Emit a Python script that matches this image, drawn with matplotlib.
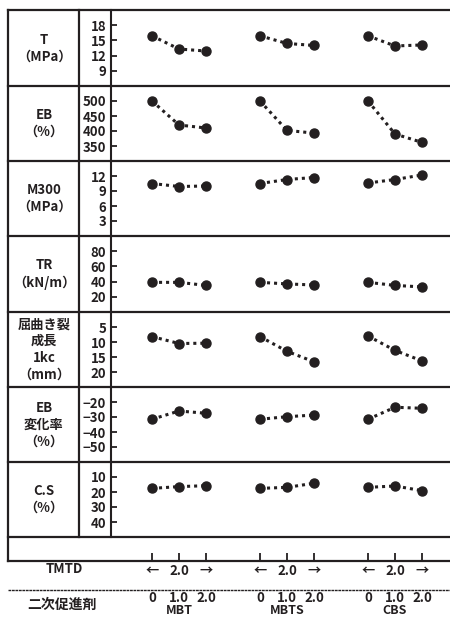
import numpy as np
import matplotlib
matplotlib.use("Agg")
import matplotlib.pyplot as plt
from matplotlib.lines import Line2D

plt.rcParams['font.family'] = ['Noto Sans CJK JP', 'DejaVu Sans']
plt.rcParams['font.weight'] = 'bold'

# accelerator groups and levels (phr)
groups = ['MBT', 'MBTS', 'CBS']
levels = [0, 1.0, 2.0]
level_labels = ['0', '1.0', '2.0']
tmtd_labels = ['←', '2.0', '→']

T = {'MBT': [15.9, 13.3, 12.9], 'MBTS': [15.9, 14.4, 14.0], 'CBS': [15.9, 13.9, 14.1]}
EB = {'MBT': [500, 420, 410], 'MBTS': [500, 402, 393], 'CBS': [500, 390, 362]}
M300 = {'MBT': [10.5, 9.9, 10.0], 'MBTS': [10.5, 11.3, 11.7], 'CBS': [10.6, 11.3, 12.2]}
TR = {'MBT': [39, 39, 35], 'MBTS': [39, 37, 35.5], 'CBS': [39, 35, 33]}
crack = {'MBT': [8.2, 10.5, 10.4], 'MBTS': [8.2, 13.1, 16.6], 'CBS': [8.0, 12.8, 16.3]}
EB_change = {'MBT': [-31.5, -26, -27.5], 'MBTS': [-31.5, -29.8, -28.7], 'CBS': [-31.5, -23.5, -24.2]}
CS = {'MBT': [17.6, 16.4, 15.8], 'MBTS': [17.6, 16.9, 14.2], 'CBS': [16.9, 16.0, 19.1]}

rows = [
    ('T\n（MPa）', T, (6, 21), [18, 15, 12, 9]),
    ('EB\n（%）', EB, (300, 550), [500, 450, 400, 350]),
    ('M300\n（MPa）', M300, (0, 15), [12, 9, 6, 3]),
    ('TR\n（kN/m）', TR, (0, 100), [80, 60, 40, 20]),
    ('屈曲き裂\n成長\n1kc\n（mm）', crack, (25, 0), [5, 10, 15, 20]),
    ('EB\n変化率\n（%）', EB_change, (-60, -10), [-20, -30, -40, -50]),
    ('C.S\n（%）', CS, (50, 0), [10, 20, 30, 40]),
]

W, H = 450, 618
fig = plt.figure(figsize=(W / 100, H / 100), dpi=100)


def fx(x):
    return x / W


def fy(y):
    return 1 - y / H


def hline(y, x0=8, x1=450, **kw):
    fig.add_artist(Line2D([fx(x0), fx(x1)], [fy(y), fy(y)], transform=fig.transFigure,
                          color='#231f20', **kw))


def vline(x, y0, y1, **kw):
    fig.add_artist(Line2D([fx(x), fx(x)], [fy(y0), fy(y1)], transform=fig.transFigure,
                          color='#231f20', **kw))


bounds = [10, 86, 161, 236, 312, 387, 462, 537, 561]
ax_left, ax_right = 111, 450
xlim = ((ax_left - 152) / 27, (ax_right - 152) / 27)


def xpos(g, lv):
    return 4 * g + lv


for i, (label, data, ylim, ticks) in enumerate(rows):
    top, bot = bounds[i], bounds[i + 1]
    ax = fig.add_axes([fx(ax_left), fy(bot), fx(ax_right - ax_left), (bot - top) / H])
    ax.set_xlim(*xlim)
    ax.set_ylim(*ylim)
    for g, name in enumerate(groups):
        xs = [xpos(g, lv) for lv in levels]
        ax.plot(xs, data[name], color='#231f20', linestyle=(0, (1, 1.3)), linewidth=2.2,
                marker='o', markersize=6.5, dash_capstyle='butt')
    for s in ['top', 'right', 'bottom']:
        ax.spines[s].set_visible(False)
    ax.spines['left'].set_linewidth(1.5)
    ax.spines['left'].set_color('#231f20')
    ax.set_xticks([])
    ax.set_yticks(ticks)
    ax.set_yticklabels([str(t).replace('-', '−') for t in ticks])
    ax.tick_params(axis='y', direction='in', length=4.5, width=1.3, pad=3.5,
                   labelsize=9.5, colors='#231f20')
    ax.patch.set_alpha(0)
    fig.text(fx(44), fy((top + bot) / 2), label, ha='center', va='center',
             fontsize=9.5, linespacing=1.25, color='#231f20')

# bottom strip with TMTD level ticks
top, bot = bounds[-2], bounds[-1]
axb = fig.add_axes([fx(ax_left), fy(bot), fx(ax_right - ax_left), (bot - top) / H])
axb.set_xlim(*xlim)
axb.set_yticks([])
for s in axb.spines.values():
    s.set_visible(False)
xt = [xpos(g, lv) for g in range(len(groups)) for lv in levels]
axb.set_xticks(xt)
axb.set_xticklabels(tmtd_labels * len(groups))
axb.tick_params(axis='x', direction='in', length=5.5, width=1.3, pad=2,
                labelsize=9.5, colors='#231f20')
axb.patch.set_alpha(0)

# table rules
for y in bounds:
    hline(y, linewidth=1.6)
vline(8, 10, 561, linewidth=1.6)
vline(79, 10, 537, linewidth=1.6)

fig.text(fx(64), fy(569), 'TMTD', ha='center', va='center', fontsize=9.5, color='#231f20')
hline(590, linewidth=1.0, linestyle=(0, (2, 0.5)))
fig.text(fx(62), fy(605), '二次促進剤', ha='center', va='center', fontsize=10, color='#231f20')

trans = matplotlib.transforms.blended_transform_factory(axb.transData, fig.transFigure)
for g, name in enumerate(groups):
    for lv, lab in zip(levels, level_labels):
        axb.text(xpos(g, lv), fy(598), lab, transform=trans, ha='center', va='center',
                 fontsize=9.5, color='#231f20', clip_on=False)
    axb.text(xpos(g, 1.0), fy(611), name, transform=trans, ha='center', va='center',
             fontsize=9, color='#231f20', clip_on=False)

fig.savefig('out.png', dpi=100)
